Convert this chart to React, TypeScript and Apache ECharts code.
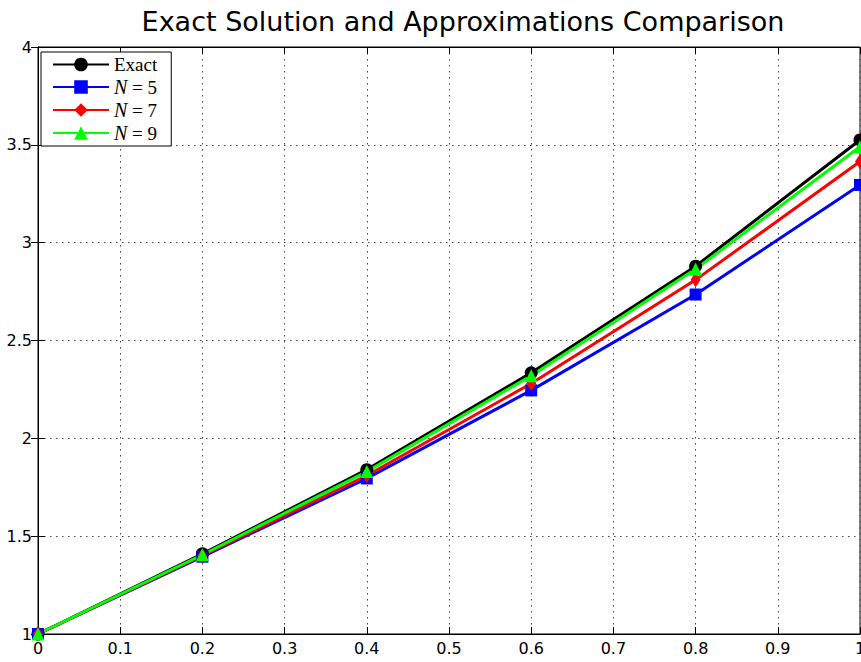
import React, { useEffect, useRef } from "react";
import * as echarts from "echarts";

// Sample points on [0, 1]
const xValues = [0, 0.2, 0.4, 0.6, 0.8, 1];
const exactValues = [1, 1.41, 1.84, 2.335, 2.88, 3.525];
const n5Values = [1, 1.395, 1.795, 2.245, 2.735, 3.295];
const n7Values = [1, 1.4, 1.81, 2.28, 2.81, 3.415];
const n9Values = [1, 1.405, 1.83, 2.32, 2.865, 3.49];

const seriesNames = ["Exact", "N = 5", "N = 7", "N = 9"];
const titleText = "Exact Solution and Approximations Comparison";

const pairs = (ys: number[]) => xValues.map((x, i) => [x, ys[i]]);

export default function App() {
  const ref = useRef<HTMLDivElement>(null);

  useEffect(() => {
    if (!ref.current) return;
    const chart = echarts.init(ref.current, null, { renderer: "svg" });

    const dotted = { show: true, lineStyle: { color: "#444", type: [1.5, 4.5] as any, width: 1 } };
    const tickIn = { show: true, inside: true, length: 7, lineStyle: { color: "#000", width: 1 } };
    const axisFont = { fontFamily: "DejaVu Sans", fontSize: 16, color: "#000" };

    const lineSeries = (name: string, data: number[], color: string, symbol: string, size: any) => ({
      name,
      type: "line",
      data: pairs(data),
      symbol,
      symbolSize: size,
      clip: false,
      lineStyle: { color, width: 3 },
      itemStyle: { color },
    });

    chart.setOption({
      animation: false,
      backgroundColor: "#fff",
      title: {
        text: titleText,
        left: 458,
        top: 3,
        textAlign: "center",
        textStyle: { fontFamily: "DejaVu Sans", fontSize: 27, fontWeight: "normal", color: "#000" },
      },
      grid: {
        left: 38,
        right: 1,
        top: 47,
        bottom: 28,
        show: true,
        borderColor: "#000",
        borderWidth: 1,
        outerBoundsMode: "none",
      },
      legend: {
        orient: "vertical",
        left: 41,
        top: 52,
        padding: [3, 14, 3, 11],
        itemGap: 3,
        itemWidth: 56,
        itemHeight: 17,
        backgroundColor: "#fff",
        borderColor: "#000",
        borderWidth: 1,
        borderRadius: 0,
        data: seriesNames,
        formatter: (name: string) =>
          name === "Exact" ? "Exact" : "{i|N} = " + name.split("= ")[1],
        textStyle: {
          fontFamily: "Liberation Serif",
          fontSize: 19,
          lineHeight: 17,
          color: "#000",
          rich: {
            i: { fontFamily: "Liberation Serif", fontStyle: "italic", fontSize: 20, lineHeight: 17, color: "#000" },
          },
        },
      },
      xAxis: [
        {
          type: "value",
          min: 0,
          max: 1,
          interval: 0.1,
          axisLine: { show: true, lineStyle: { color: "#000" } },
          axisTick: tickIn,
          axisLabel: { ...axisFont, margin: 6 },
          splitLine: dotted,
        },
        {
          type: "value",
          position: "top",
          min: 0,
          max: 1,
          interval: 0.1,
          axisLine: { show: true, lineStyle: { color: "#000" } },
          axisTick: tickIn,
          axisLabel: { show: false },
          splitLine: { show: false },
        },
      ],
      yAxis: [
        {
          type: "value",
          min: 1,
          max: 4,
          interval: 0.5,
          axisLine: { show: true, lineStyle: { color: "#000" } },
          axisTick: tickIn,
          axisLabel: { ...axisFont, margin: 6 },
          splitLine: dotted,
        },
        {
          type: "value",
          position: "right",
          min: 1,
          max: 4,
          interval: 0.5,
          axisLine: { show: true, lineStyle: { color: "#000" } },
          axisTick: tickIn,
          axisLabel: { show: false },
          splitLine: { show: false },
        },
      ],
      series: [
        lineSeries(seriesNames[0], exactValues, "#000000", "circle", 13),
        lineSeries(seriesNames[1], n5Values, "#0000ff", "rect", 12),
        lineSeries(seriesNames[2], n7Values, "#ff0000", "diamond", [10, 15]),
        lineSeries(seriesNames[3], n9Values, "#00ff00", "triangle", 13),
      ],
    });

    return () => chart.dispose();
  }, []);

  return (
    <div
      ref={ref}
      style={{ position: "fixed", left: 0, top: 0, width: 861, height: 662 }}
    />
  );
}
